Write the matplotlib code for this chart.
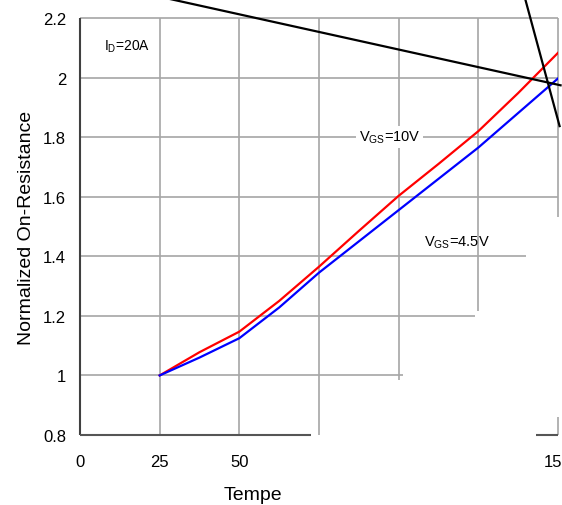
import matplotlib
matplotlib.use("Agg")
import matplotlib.pyplot as plt

plt.rcParams['font.family'] = ['Liberation Sans', 'DejaVu Sans']
plt.rcParams['mathtext.fontset'] = 'custom'
plt.rcParams['mathtext.rm'] = 'Liberation Sans'

# temperature (°C) and normalized on-resistance
temp = [25, 37.5, 50, 62.5, 75, 87.5, 100, 112.5, 125, 137.5, 150]
rds_10v = [1.0, 1.078, 1.147, 1.25, 1.365, 1.485, 1.603, 1.71, 1.82, 1.948, 2.083]
rds_45v = [1.0, 1.06, 1.125, 1.228, 1.345, 1.45, 1.555, 1.66, 1.765, 1.881, 1.997]

x_ticks = [0, 25, 50, 150]
y_ticks = [0.8, 1.0, 1.2, 1.4, 1.6, 1.8, 2.0, 2.2]
y_tick_labels = ["0.8", "1", "1.2", "1.4", "1.6", "1.8", "2", "2.2"]

# stray black strokes crossing the scanned image
stroke1_x = [28.1, 150.8]
stroke1_y = [2.264, 1.974]
stroke2_x = [139.7, 150.5]
stroke2_y = [2.264, 1.837]

# visible extent of each grid line (the scan is partly erased)
hgrid = [(2.0, 0, 150), (1.8, 0, 150), (1.6, 0, 150), (1.4, 0, 140),
         (1.2, 0, 124), (1.0, 0, 101.5)]
vgrid = [(25, 0.8, 2.2), (50, 0.8, 2.2), (75, 0.8, 2.2), (100, 0.985, 2.2),
         (125, 1.215, 2.2)]

fig = plt.figure(figsize=(5.62, 5.06), dpi=100)
ax = fig.add_axes([0.1423, 0.1383, 0.8506, 0.8242])
ax.set_xlim(0, 150)
ax.set_ylim(0.8, 2.2)
for s in ax.spines.values():
    s.set_visible(False)

grid_c = '#a6a6a6'
for y, x0, x1 in hgrid:
    ax.hlines(y, x0, x1, color=grid_c, lw=1.2, zorder=1)
for x, y0, y1 in vgrid:
    ax.vlines(x, y0, y1, color=grid_c, lw=1.2, zorder=1)

# frame
ax.hlines(2.2, 0, 150, color=grid_c, lw=1.2, zorder=1, clip_on=False)
ax.vlines(150, 1.533, 2.2, color=grid_c, lw=1.2, zorder=1, clip_on=False)
ax.vlines(150, 0.8, 0.86, color=grid_c, lw=1.2, zorder=1, clip_on=False)
ax.vlines(0, 0.8, 2.2, color='#404040', lw=1.5, zorder=2, clip_on=False)
ax.hlines(0.8, 0, 72.5, color='#555555', lw=1.5, zorder=2, clip_on=False)
ax.hlines(0.8, 143, 150, color='#555555', lw=1.5, zorder=2, clip_on=False)

ax.plot(temp, rds_10v, color='#ff0000', lw=1.6, zorder=3)
ax.plot(temp, rds_45v, color='#0000ff', lw=1.6, zorder=3)

ax.plot(stroke1_x, stroke1_y, color='black', lw=1.6, zorder=4, clip_on=False)
ax.plot(stroke2_x, stroke2_y, color='black', lw=1.6, zorder=4, clip_on=False)

ax.text(7.5, 2.106, r"I$_{\mathrm{D}}$=20A", fontsize=10, va='center')
ax.text(87.5, 1.80, r"V$_{\mathrm{GS}}$=10V", fontsize=10.5, va='center',
        bbox=dict(facecolor='white', edgecolor='none', pad=2))
ax.text(107.8, 1.45, r"V$_{\mathrm{GS}}$=4.5V", fontsize=10.5, va='center')

ax.set_xticks(x_ticks)
ax.set_xticklabels([str(v) for v in x_ticks])
ax.set_yticks(y_ticks)
ax.set_yticklabels(y_tick_labels)
ax.tick_params(length=0, labelsize=12)
ax.tick_params(axis='x', pad=14)
ax.tick_params(axis='y', pad=10)

ax.set_ylabel("Normalized On-Resistance", fontsize=14, labelpad=6)
ax.set_xlabel("Tempe", fontsize=14, labelpad=12)
ax.xaxis.label.set_x(0.362)

fig.savefig("out.png", dpi=100)
